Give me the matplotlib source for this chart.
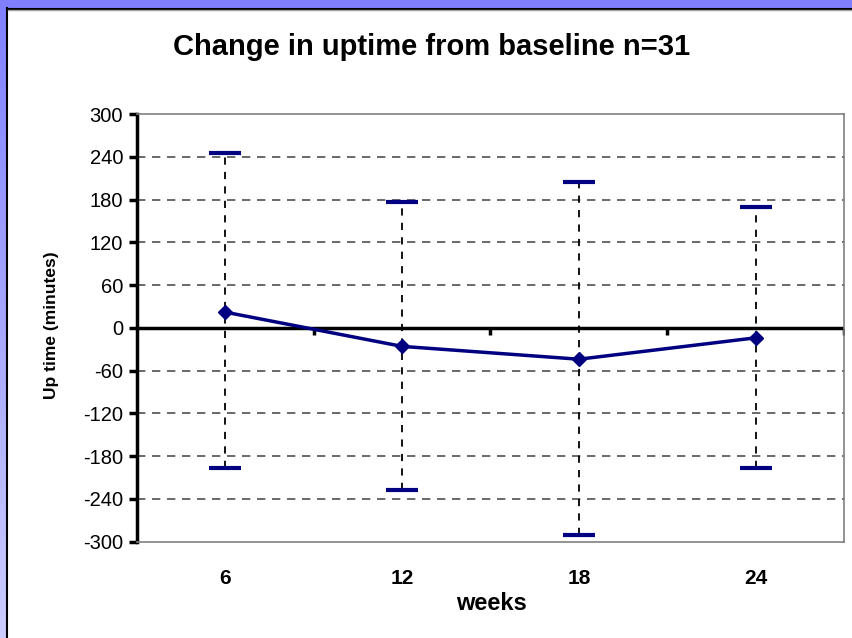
import numpy as np
import matplotlib
matplotlib.use("Agg")
import matplotlib.pyplot as plt
from matplotlib.patches import Rectangle
from matplotlib.lines import Line2D

plt.rcParams['font.family'] = ['Liberation Sans', 'DejaVu Sans']

# ---- data ----
weeks = ["6", "12", "18", "24"]
mean_change = [22, -26, -44, -14]
upper = [245, 176, 204, 169]
lower = [-197, -227, -290, -196]
y_ticks = [-300, -240, -180, -120, -60, 0, 60, 120, 180, 240, 300]

W, H = 853, 638
fig = plt.figure(figsize=(W / 100, H / 100), dpi=100)

# background frame with blue gradient
bg = fig.add_axes([0, 0, 1, 1], zorder=-10)
grad = np.linspace(0, 1, 256)[:, None] * np.ones((1, 2))
c_top = np.array([0x80, 0x80, 0xFF]) / 255
c_bot = np.array([0xCC, 0xCC, 0xFF]) / 255
img = c_top[None, None, :] * (1 - grad[..., None]) + c_bot[None, None, :] * grad[..., None]
bg.imshow(img, extent=[0, 1, 0, 1], aspect='auto', origin='upper')
bg.add_patch(Rectangle((8 / W, 0), 1 - 8 / W, (H - 9) / H, facecolor='white', edgecolor='none'))
bg.set_xlim(0, 1)
bg.set_ylim(0, 1)
bg.axis('off')
fig.add_artist(Line2D([7.5 / W, 7.5 / W], [0, (H - 8) / H], color='black', lw=1.5))
fig.add_artist(Line2D([7.5 / W, 1], [(H - 8.5) / H, (H - 8.5) / H], color='black', lw=1.5))
fig.add_artist(Line2D([8 / W, 1], [(H - 10) / H, (H - 10) / H], color='#A0A0A0', lw=1))

# plot area
ax = fig.add_axes([137 / W, (H - 541.7) / H, 707 / W, 427.7 / H])
x = np.arange(len(weeks))
ax.set_xlim(-0.5, len(weeks) - 0.5)
ax.set_ylim(-300, 300)

# gridlines
for yv in y_ticks[1:-1]:
    if yv != 0:
        ax.axhline(yv, color='#505050', lw=1.2, ls=(0, (5, 4)), zorder=1)

# zero line with category-boundary ticks
ax.axhline(0, color='black', lw=2.5, zorder=2)
bounds = x + 0.5
ax.plot(bounds, np.zeros_like(bounds), ls='none', marker=3, ms=5, mew=2.5, color='black', zorder=2)

# error bars: dashed black verticals with navy caps
ax.vlines(x, lower, upper, colors='black', lw=1.3, linestyles=(0, (4, 4)), zorder=3)
ax.plot(x, upper, ls='none', marker='_', ms=23, mew=3, color='#000080', zorder=4)
ax.plot(x, lower, ls='none', marker='_', ms=23, mew=3, color='#000080', zorder=4)

# mean line
ax.plot(x, mean_change, color='#000080', lw=2.5, marker='D', ms=7, zorder=5)

# spines
for s in ['top', 'right', 'bottom']:
    ax.spines[s].set_color('#808080')
    ax.spines[s].set_linewidth(1.2)
ax.spines['left'].set_color('black')
ax.spines['left'].set_linewidth(2.5)

ax.set_yticks(y_ticks)
ax.set_yticklabels([str(v) for v in y_ticks], fontsize=14.5)
ax.tick_params(axis='y', direction='out', length=6, width=2.5, pad=4)
ax.set_xticks(x)
ax.set_xticklabels(weeks, fontsize=15, fontweight='bold')
ax.tick_params(axis='x', length=0, pad=20)

ax.set_xlabel('weeks', fontsize=17, fontweight='bold')
ax.xaxis.label.set_va('center')
ax.xaxis.set_label_coords((491 - 137) / 707, (541.7 - 604) / 427.7)
ax.set_ylabel('Up time (minutes)', fontsize=12.5, fontweight='bold')
ax.yaxis.label.set_va('center')
ax.yaxis.set_label_coords((52 - 137) / 707, (541.7 - 325) / 427.7)

fig.text(432 / W, 1 - 47 / H, 'Change in uptime from baseline n=31', ha='center', va='center',
         fontsize=21, fontweight='bold')

fig.savefig('out.png', dpi=100)
